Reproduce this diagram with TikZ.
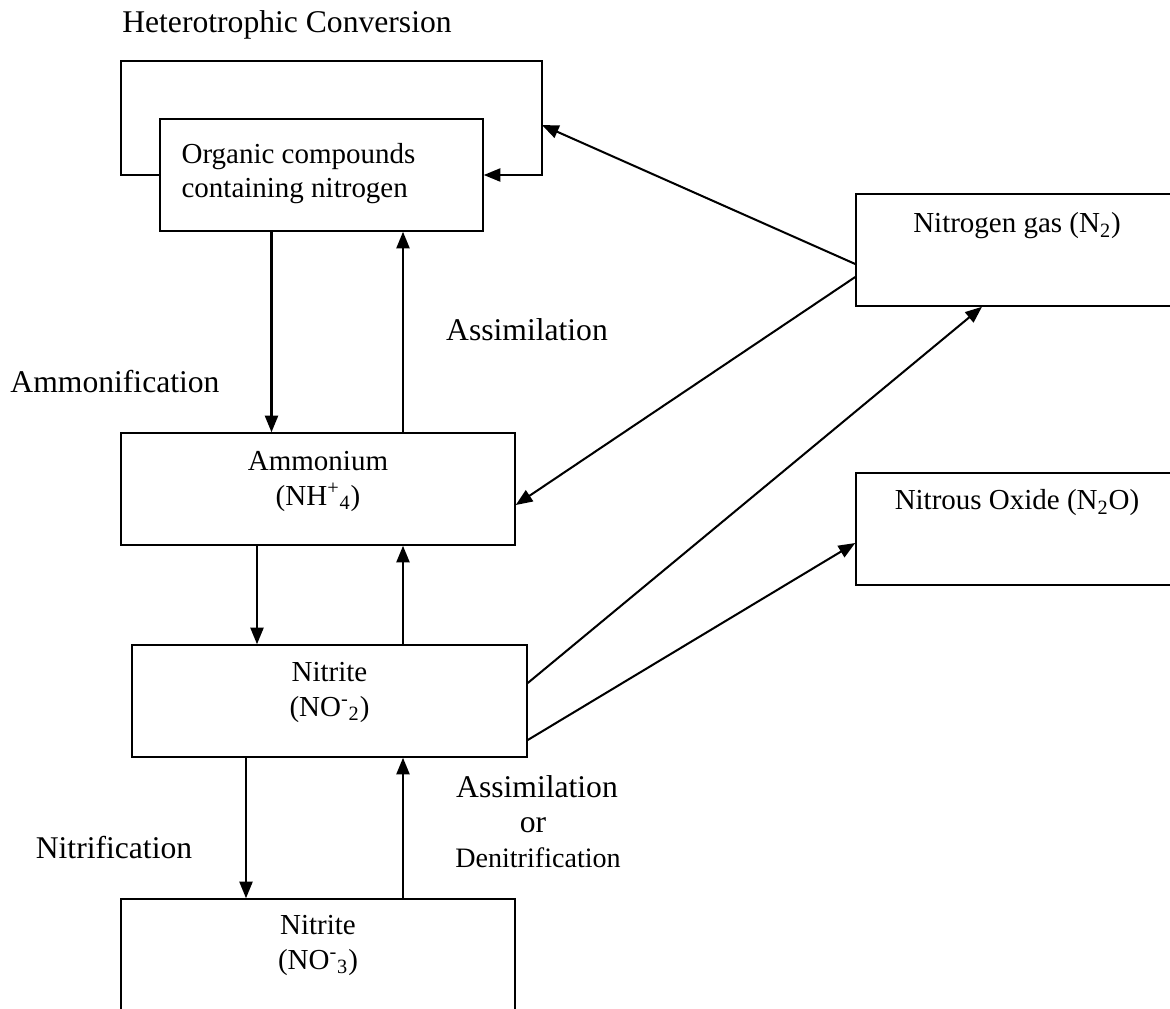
\documentclass[tikz,border=0pt]{standalone}
\usepackage{fontspec}
\setmainfont{Liberation Serif}
\usetikzlibrary{arrows.meta,calc}

\tikzset{
  box/.style={draw, line width=.9pt, minimum height=2.24cm, inner sep=0pt},
  boxtext/.style={font=\fontsize{16.5}{19.5}\selectfont, inner sep=0pt, align=center, anchor=north},
  lbl/.style={font=\fontsize{18}{21}\selectfont, inner sep=0pt, anchor=base},
  flow/.style={line width=1.15pt, line join=miter, -{Triangle[length=9.5pt,width=7.5pt]}},
}

\begin{document}
\begin{tikzpicture}[x=0.02cm, y=-0.02cm]
\useasboundingbox (0,0) rectangle (1170,1008);
\clip (0,0) rectangle (1170,1008);

% boxes
\node[box, minimum width=6.46cm] (organic) at (321.5,175) {};
\node[box, minimum width=7.88cm] (amm) at (318,489) {};
\node[box, minimum width=7.9cm] (nitii) at (329.5,701) {};
\node[box, minimum width=7.88cm] (nitiii) at (318,955) {};
\node[box, minimum width=6.44cm] (ntwo) at (1017,250) {};
\node[box, minimum width=6.44cm] (ntwoo) at (1017,529) {};

% box texts
\node[boxtext, align=left, anchor=north west] (organictxt) at ($(organic.north west)+(22,25)$) {Organic compounds\\containing nitrogen};
\node[boxtext] (ammtxt) at ($(amm.north)+(0,19)$) {Ammonium\\(NH\textsuperscript{+}\textsubscript{4})};
\node[boxtext] (nitiitxt) at ($(nitii.north)+(0,18)$) {Nitrite\\(NO\textsuperscript{-}\textsubscript{2})};
\node[boxtext] (nitiiitxt) at ($(nitiii.north)+(0,17)$) {Nitrite\\(NO\textsuperscript{-}\textsubscript{3})};
\node[boxtext] (ntwotxt) at ($(ntwo.north)+(0,19)$) {Nitrogen gas (N\textsubscript{2})};
\node[boxtext] (ntwootxt) at ($(ntwoo.north)+(0,17)$) {Nitrous Oxide (N\textsubscript{2}O)};

% labels
\node[lbl] (hetero) at (287,32) {Heterotrophic Conversion};
\node[lbl] (ammonif) at (115,392) {Ammonification};
\node[lbl] (assim) at (527,340) {Assimilation};
\node[lbl] (nitrif) at (114,858) {Nitrification};
\node[lbl] (assimb) at (537,797) {Assimilation};
\node[lbl] (orword) at (533,832) {or};
\node[lbl, font=\fontsize{16}{19}\selectfont] (denit) at (538,867) {Denitrification};

% heterotrophic loop
\coordinate (loopl) at (121,61);
\coordinate (loopr) at (542,61);
\coordinate (loopin) at (542,125);
\draw[flow] (organic.west) -| (loopl) -| (loopr) |- (organic.east);

% vertical arrows
\draw[flow] ($(organic.south)+(-50,0)$) coordinate (da) -- (da |- amm.north);
\draw[flow] ($(amm.north)+(85,0)$) coordinate (ua) -- (ua |- organic.south);
\draw[flow] ($(amm.south)+(-61,0)$) coordinate (db) -- (db |- nitii.north);
\draw[flow] ($(nitii.north)+(73.5,0)$) coordinate (ub) -- (ub |- amm.south);
\draw[flow] ($(nitii.south)+(-83.5,0)$) coordinate (dc) -- (dc |- nitiii.north);
\draw[flow] ($(nitiii.north)+(85,0)$) coordinate (uc) -- (uc |- nitii.south);

% slanted arrows
\draw[flow] ($(ntwo.west)+(0,14)$) -- (loopin);
\draw[flow] ($(ntwo.west)+(0,27)$) -- ($(amm.east)+(0,16)$);
\draw[flow] ($(nitii.east)+(0,-18)$) -- ($(ntwo.south)+(-35,0)$);
\draw[flow] ($(nitii.east)+(0,39)$) -- ($(ntwoo.west)+(0,14)$);
\end{tikzpicture}
\end{document}
